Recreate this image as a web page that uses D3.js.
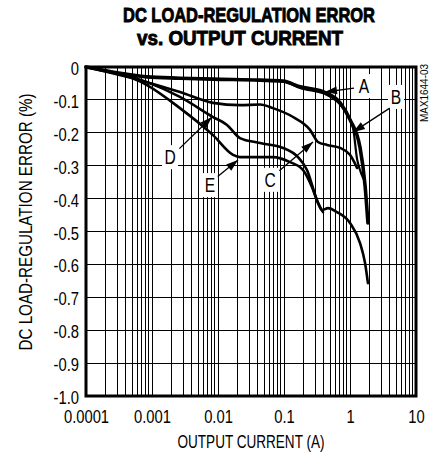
<!DOCTYPE html>
<html>
<head>
<meta charset="utf-8">
<script src="https://cdn.jsdelivr.net/npm/d3@7"></script>
<style>
  body { margin: 0; background: #fff; }
  svg text { font-family: "Liberation Sans Narrow", "Arial Narrow", "Liberation Sans", sans-serif; fill: #000; }
</style>
</head>
<body>
<div id="chart"></div>
<script>
// tick values / labels
const xTickValues = [0.0001, 0.001, 0.01, 0.1, 1, 10];
const xTickLabels = ["0.0001", "0.001", "0.01", "0.1", "1", "10"];
const yTickValues = [0, -0.1, -0.2, -0.3, -0.4, -0.5, -0.6, -0.7, -0.8, -0.9, -1.0];
const yTickLabels = ["0", "-0.1", "-0.2", "-0.3", "-0.4", "-0.5", "-0.6", "-0.7", "-0.8", "-0.9", "-1.0"];

// curves (current in A, error in %)
const currentB = [0.0001, 0.00025, 0.00084, 0.00265, 0.0084, 0.0433, 0.097, 0.175, 0.39, 0.705, 1.0, 1.42, 1.69, 1.87];
const errorB   = [0, -0.015, -0.030, -0.034, -0.037, -0.040, -0.043, -0.060, -0.075, -0.108, -0.160, -0.245, -0.36, -0.474];

const currentA = [0.0001, 0.00025, 0.00084, 0.00265, 0.0084, 0.0433, 0.097, 0.175, 0.449, 0.783, 1.11, 1.28, 1.4, 1.6];
const errorA   = [0, -0.015, -0.030, -0.034, -0.037, -0.040, -0.044, -0.064, -0.085, -0.125, -0.185, -0.28, -0.31, -0.34];

const currentC = [0.0001, 0.00084, 0.00265, 0.0084, 0.0215, 0.0433, 0.068, 0.137, 0.248, 0.327, 0.449, 0.705, 1.0, 1.28];
const errorC   = [0, -0.046, -0.076, -0.109, -0.116, -0.114, -0.125, -0.152, -0.191, -0.228, -0.237, -0.246, -0.267, -0.307];

const currentD = [0.0001, 0.00084, 0.00265, 0.0084, 0.0137, 0.0215, 0.0433, 0.097, 0.163, 0.223, 0.316, 0.377, 0.464, 0.635, 1.0, 1.42, 1.69, 1.87];
const errorD   = [0, -0.046, -0.091, -0.152, -0.176, -0.216, -0.231, -0.246, -0.274, -0.313, -0.404, -0.435, -0.429, -0.441, -0.474, -0.535, -0.596, -0.657];

const currentE = [0.0001, 0.00084, 0.00265, 0.0084, 0.0169, 0.0215, 0.0433, 0.068, 0.123, 0.194, 0.265, 0.327, 0.39];
const errorE   = [0, -0.055, -0.125, -0.207, -0.267, -0.274, -0.274, -0.274, -0.289, -0.313, -0.365, -0.413, -0.441];

// annotation letters, label / arrow tail / arrow tip in data space
const labelNames   = ["A", "B", "C", "D", "E"];
const labelCurrent = [1.63, 4.98, 0.0614, 0.001875, 0.00757];
const labelError   = [-0.058, -0.091, -0.343, -0.274, -0.359];
const tailCurrent  = [1.15, 4.0, 0.085, 0.0026, 0.0099];
const tailError    = [-0.064, -0.125, -0.315, -0.248, -0.333];
const tipCurrent   = [0.418, 1.11, 0.275, 0.0081, 0.0201];
const tipError     = [-0.076, -0.198, -0.228, -0.152, -0.283];

const width = 439, height = 456;
const svg = d3.select("#chart").append("svg")
  .attr("width", width).attr("height", height);

const x = d3.scaleLog().domain([0.0001, 10]).range([86, 416]);
const y = d3.scaleLinear().domain([-1, 0]).range([396, 67]);

// squeeze a text to look like a narrow face
function narrow(sel, k) {
  sel.each(function () {
    const w = this.getComputedTextLength();
    d3.select(this).attr("textLength", w * k).attr("lengthAdjust", "spacingAndGlyphs");
  });
}

// grid
const minorX = [];
for (let e = -4; e <= 0; e++) {
  for (let k = 1; k <= 9; k++) minorX.push(k * Math.pow(10, e));
}
minorX.push(10);

const grid = svg.append("g").attr("shape-rendering", "crispEdges");
grid.selectAll("line.v")
  .data(minorX)
  .enter().append("line")
  .attr("class", "v")
  .attr("x1", d => x(d)).attr("x2", d => x(d))
  .attr("y1", y(0)).attr("y2", y(-1))
  .attr("stroke", "#000")
  .attr("stroke-width", 1);

grid.selectAll("line.h")
  .data(yTickValues)
  .enter().append("line")
  .attr("class", "h")
  .attr("x1", x(0.0001)).attr("x2", x(10))
  .attr("y1", d => y(d)).attr("y2", d => y(d))
  .attr("stroke", "#000")
  .attr("stroke-width", 1);

// curves
const line = d3.line()
  .x(d => x(d[0]))
  .y(d => y(d[1]))
  .curve(d3.curveMonotoneX);

const series = [
  { c: currentE, e: errorE, w: 2.6 },
  { c: currentD, e: errorD, w: 2.6 },
  { c: currentC, e: errorC, w: 2.6 },
  { c: currentA, e: errorA, w: 2.2 },
  { c: currentB, e: errorB, w: 3.6 }
];

svg.append("g").selectAll("path")
  .data(series)
  .enter().append("path")
  .attr("d", s => line(s.c.map((v, i) => [v, s.e[i]])))
  .attr("fill", "none")
  .attr("stroke", "#000")
  .attr("stroke-width", s => s.w)
  .attr("stroke-linejoin", "round")
  .attr("stroke-linecap", "round");

// frame
svg.append("rect")
  .attr("x", x(0.0001)).attr("y", y(0))
  .attr("width", x(10) - x(0.0001))
  .attr("height", y(-1) - y(0))
  .attr("fill", "none")
  .attr("stroke", "#000")
  .attr("stroke-width", 3);

// axes
const xAxis = svg.append("g")
  .attr("transform", `translate(0,${y(-1)})`)
  .call(d3.axisBottom(x).tickValues(xTickValues).tickSize(0).tickPadding(14)
    .tickFormat((d, i) => xTickLabels[i]));
xAxis.attr("font-family", null);
xAxis.select(".domain").remove();
xAxis.selectAll("text").attr("font-size", 18).call(narrow, 0.82);

const yAxis = svg.append("g")
  .attr("transform", `translate(${x(0.0001)},0)`)
  .call(d3.axisLeft(y).tickValues(yTickValues).tickSize(0).tickPadding(7)
    .tickFormat((d, i) => yTickLabels[i]));
yAxis.attr("font-family", null);
yAxis.select(".domain").remove();
yAxis.selectAll("text").attr("font-size", 18).attr("dy", "0.42em").call(narrow, 0.82);

// axis titles
svg.append("text")
  .attr("x", 251).attr("y", 448)
  .attr("text-anchor", "middle")
  .attr("font-size", 18)
  .attr("textLength", 147).attr("lengthAdjust", "spacingAndGlyphs")
  .text("OUTPUT CURRENT (A)");

svg.append("text")
  .attr("transform", "translate(32,222) rotate(-90)")
  .attr("text-anchor", "middle")
  .attr("font-size", 18)
  .attr("textLength", 257).attr("lengthAdjust", "spacingAndGlyphs")
  .text("DC LOAD-REGULATION ERROR (%)");

// title
svg.append("text")
  .attr("x", 249).attr("y", 22)
  .attr("text-anchor", "middle")
  .attr("font-size", 20).attr("font-weight", "bold")
  .attr("stroke", "#000").attr("stroke-width", 0.9)
  .attr("textLength", 252).attr("lengthAdjust", "spacingAndGlyphs")
  .text("DC LOAD-REGULATION ERROR");
svg.append("text")
  .attr("x", 240).attr("y", 45)
  .attr("text-anchor", "middle")
  .attr("font-size", 20).attr("font-weight", "bold")
  .attr("stroke", "#000").attr("stroke-width", 0.9)
  .attr("textLength", 206).attr("lengthAdjust", "spacingAndGlyphs")
  .text("vs. OUTPUT CURRENT");

// side code
svg.append("text")
  .attr("transform", "translate(428,93) rotate(-90)")
  .attr("text-anchor", "middle")
  .attr("font-size", 10)
  .attr("textLength", 58).attr("lengthAdjust", "spacingAndGlyphs")
  .text("MAX1644-03");

// annotations
const ann = svg.append("g").selectAll("g")
  .data(labelNames)
  .enter().append("g");

ann.append("rect")
  .attr("x", (d, i) => x(labelCurrent[i]) - 8)
  .attr("y", (d, i) => y(labelError[i]) - 12)
  .attr("width", 16).attr("height", 24)
  .attr("fill", "#fff");

ann.append("line")
  .attr("x1", (d, i) => x(tailCurrent[i]))
  .attr("y1", (d, i) => y(tailError[i]))
  .attr("x2", (d, i) => x(tipCurrent[i]))
  .attr("y2", (d, i) => y(tipError[i]))
  .attr("stroke", "#000")
  .attr("stroke-width", 1.3);

ann.append("path")
  .attr("d", (d, i) => {
    const x0 = x(tailCurrent[i]), y0 = y(tailError[i]);
    const x1 = x(tipCurrent[i]), y1 = y(tipError[i]);
    const a = Math.atan2(y1 - y0, x1 - x0);
    const L = 12, W = 4;
    const bx = x1 - L * Math.cos(a), by = y1 - L * Math.sin(a);
    const px = -Math.sin(a) * W, py = Math.cos(a) * W;
    return `M${x1},${y1}L${bx + px},${by + py}L${bx - px},${by - py}Z`;
  })
  .attr("fill", "#000");

ann.append("text")
  .attr("x", (d, i) => x(labelCurrent[i]))
  .attr("y", (d, i) => y(labelError[i]))
  .attr("dy", "0.36em")
  .attr("text-anchor", "middle")
  .attr("font-size", 20)
  .text(d => d)
  .call(narrow, 0.78);
</script>
</body>
</html>
